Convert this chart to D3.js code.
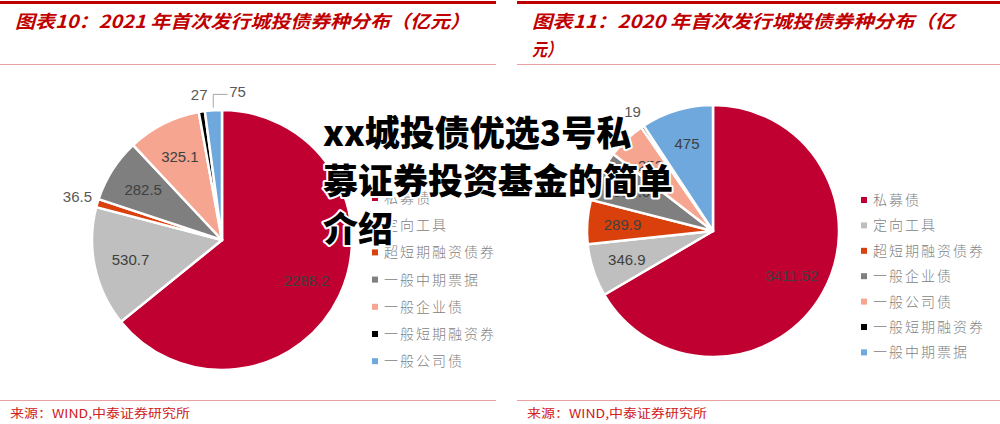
<!DOCTYPE html>
<html lang="zh">
<head>
<meta charset="utf-8">
<title>城投债券种分布</title>
<script src="https://cdn.jsdelivr.net/npm/d3@7/dist/d3.min.js"></script>
<style>
  body { margin: 0; background: #fff; }
  svg { display: block; }
</style>
</head>
<body></body>
<script>

//****************************************************************************//
// Data

var types2021  = ["私募债", "定向工具", "超短期融资债券", "一般中期票据", "一般企业债", "一般短期融资券", "一般公司债"];
var values2021 = [2288.2, 530.7, 36.5, 282.5, 325.1, 27, 75];
var labels2021 = ["2288.2", "530.7", "36.5", "282.5", "325.1", "27", "75"];

var types2020  = ["私募债", "定向工具", "超短期融资债券", "一般企业债", "一般公司债", "一般短期融资券", "一般中期票据"];
var values2020 = [3411.52, 346.9, 289.9, 331.6, 252, 19, 475];
var labels2020 = ["3411.52", "346.9", "289.9", "331.6", "252", "19", "475"];

var colors2021 = ["#C00030", "#BFBFBF", "#D9400C", "#7F7F7F", "#F5A590", "#000000", "#6FA8DC"];
var colors2020 = ["#C00030", "#BFBFBF", "#D9400C", "#7F7F7F", "#F5A590", "#000000", "#6FA8DC"];

var title2021 = "图表10：2021 年首次发行城投债券种分布（亿元）";
var title2020 = ["图表11：2020 年首次发行城投债券种分布（亿", "元）"];
var source = "来源：WIND,中泰证券研究所";
var overlay = ["xx城投债优选3号私", "募证券投资基金的简单", "介绍"];

//****************************************************************************//
// Canvas

var width = 1000, height = 424;
var red = "#C00000";

var canvas = d3.select("body").append("svg")
    .attr("width", width)
    .attr("height", height);

// panel frames
function drawPanel(x0, x1, titleLines, titleWidths){
    canvas.append("rect").attr("x", x0).attr("y", 1).attr("width", x1 - x0).attr("height", 3).attr("fill", red);
    canvas.append("line").attr("x1", x0).attr("x2", x1).attr("y1", 64.5).attr("y2", 64.5)
        .attr("stroke", "#E8A0A0").attr("stroke-width", 1.2);
    canvas.append("line").attr("x1", x0).attr("x2", x1).attr("y1", 400.5).attr("y2", 400.5)
        .attr("stroke", "#E8A0A0").attr("stroke-width", 1.2);

    titleLines.forEach(function(t, i){
        canvas.append("text")
            .attr("x", x0 + 15).attr("y", 28 + i * 28)
            .attr("textLength", titleWidths[i]).attr("lengthAdjust", "spacingAndGlyphs")
            .attr("font-family", "'Noto Sans CJK SC', sans-serif")
            .attr("font-weight", 700).attr("font-style", "italic")
            .attr("font-size", 18).attr("fill", red)
            .text(t);
    });

    canvas.append("text")
        .attr("x", x0 + 10).attr("y", 418)
        .attr("textLength", 180).attr("lengthAdjust", "spacingAndGlyphs")
        .attr("font-family", "'Noto Sans CJK SC', sans-serif")
        .attr("font-size", 12).attr("fill", "#D02020")
        .text(source);
}

drawPanel(0, 496, [title2021], [455]);
drawPanel(517, 1000, title2020, [423, 30]);

//****************************************************************************//
// Pies

var pie = d3.pie().sort(null).value(function(d){ return d; });

function drawPie(values, labels, colors, cx, cy, r, outside){
    var g = canvas.append("g").attr("transform", "translate(" + cx + "," + cy + ")");
    var arcs = pie(values);
    var arc = d3.arc().innerRadius(0).outerRadius(r);
    var labelArc = d3.arc().innerRadius(r * 0.72).outerRadius(r * 0.72);

    g.selectAll("path.slice").data(arcs).enter().append("path")
        .attr("class", "slice")
        .attr("d", arc)
        .attr("fill", function(d, i){ return colors[i]; })
        .attr("stroke", "#fff")
        .attr("stroke-width", 2.5)
        .attr("stroke-linejoin", "round");

    arcs.forEach(function(d, i){
        var o = outside[i];
        var mid = (d.startAngle + d.endAngle) / 2;
        var x, y, fill = "#404040";
        if(o){
            var a = mid + (o.shift || 0);
            x = Math.sin(a) * r * o.k;
            y = -Math.cos(a) * r * o.k;
            fill = "#595959";
            if(o.leader){
                var sx = Math.sin(mid) * r * 1.02, sy = -Math.cos(mid) * r * 1.02;
                var ty = -r * 1.12;
                g.append("polyline")
                    .attr("points", [[sx, sy], [sx, ty], [x - 10, ty]].map(function(p){ return p.join(","); }).join(" "))
                    .attr("fill", "none").attr("stroke", "#A6A6A6").attr("stroke-width", 1);
            }
        } else {
            var c = labelArc.centroid(d);
            x = c[0]; y = c[1];
        }
        g.append("text")
            .attr("x", x).attr("y", y)
            .attr("dy", "0.35em")
            .attr("text-anchor", "middle")
            .attr("font-family", "Arial, 'Liberation Sans', sans-serif")
            .attr("font-size", 15)
            .attr("fill", fill)
            .text(labels[i]);
    });
}

drawPie(values2021, labels2021, colors2021, 222, 240, 130,
    [null, null, {k: 1.16}, null, null, {k: 1.13}, {k: 1.15, shift: 0.17, leader: true}]);
drawPie(values2020, labels2020, colors2020, 713, 231, 126,
    [null, null, null, null, null, {k: 1.14}, null]);

//****************************************************************************//
// Legends

function drawLegend(types, colors, x, y0, step){
    var g = canvas.append("g");
    types.forEach(function(t, i){
        var y = y0 + i * step;
        g.append("rect").attr("x", x).attr("y", y - 3).attr("width", 6).attr("height", 6).attr("fill", colors[i]);
        g.append("text")
            .attr("x", x + 12).attr("y", y).attr("dy", "0.36em")
            .attr("font-family", "'Noto Sans CJK SC', serif")
            .attr("font-size", 14).attr("font-weight", 300)
            .attr("letter-spacing", 2)
            .attr("fill", "#7F7F7F")
            .text(t);
    });
}

drawLegend(types2021, colors2021, 372, 198, 27.2);
drawLegend(types2020, colors2020, 861, 200, 25.4);

//****************************************************************************//
// Overlay caption

overlay.forEach(function(t, i){
    canvas.append("text")
        .attr("x", 323).attr("y", 146 + i * 48)
        .attr("font-family", "'Noto Sans CJK SC', sans-serif")
        .attr("font-weight", 900)
        .attr("font-size", 35)
        .attr("fill", "#000")
        .attr("stroke", "#fff").attr("stroke-width", 4)
        .attr("paint-order", "stroke")
        .attr("stroke-linejoin", "round")
        .text(t);
});

</script>
</html>
